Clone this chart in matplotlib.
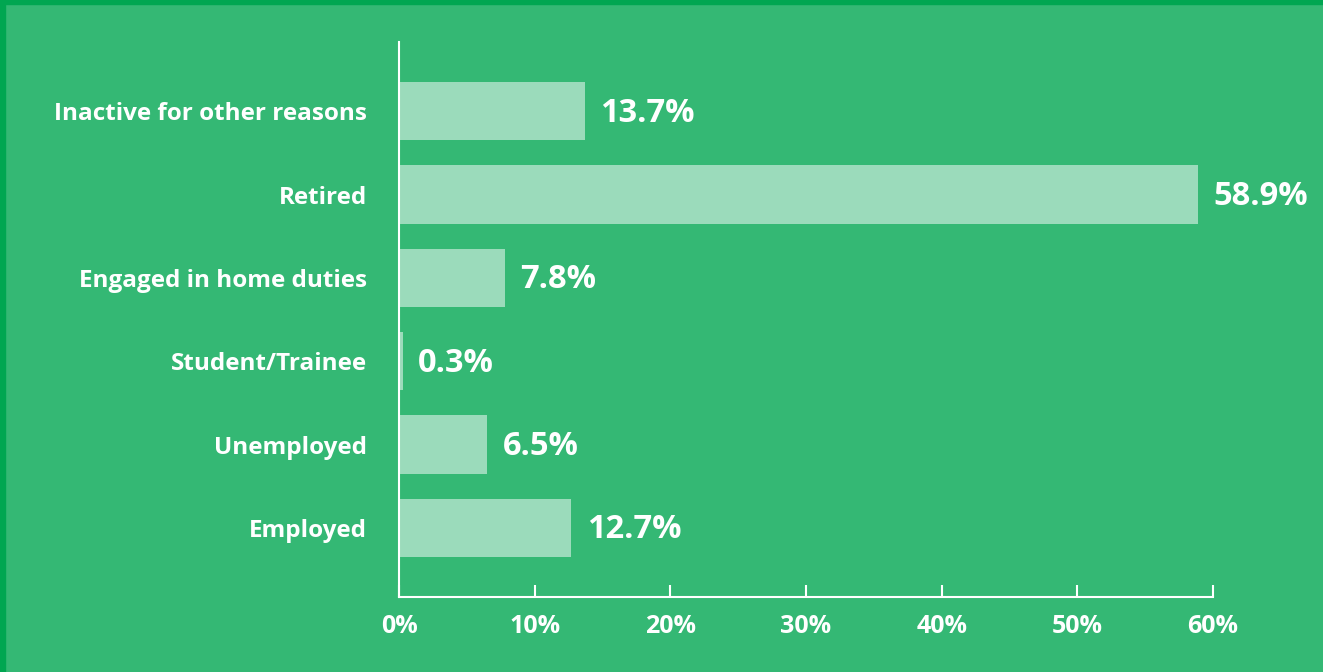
import matplotlib.pyplot as plt
from matplotlib.patches import Rectangle

categories = ['Employed', 'Unemployed', 'Student/Trainee',
              'Engaged in home duties', 'Retired', 'Inactive for other reasons']
values = [12.7, 6.5, 0.3, 7.8, 58.9, 13.7]
xticks = [0, 10, 20, 30, 40, 50, 60]

bg = '#34b874'
bar_col = '#9bdbbb'
border = '#00a651'

plt.rcParams['font.family'] = ['Open Sans', 'DejaVu Sans']

fig = plt.figure(figsize=(13.23, 6.72), dpi=100, facecolor=bg)
ax = fig.add_axes([399 / 1323, 1 - 597 / 672, 814 / 1323, 555 / 672])
ax.set_facecolor(bg)

pos = list(range(len(categories)))
ax.barh(pos, values, height=0.7, color=bar_col)

# value labels to the right of each bar
for p, v in zip(pos, values):
    ax.annotate(f'{v}%', (v, p), xytext=(11, -1.5), textcoords='offset points',
                va='center', ha='left', color='white', fontsize=23.5, fontweight='bold')

ax.set_xlim(0, 60)
ax.set_ylim(-0.83, 5.83)
ax.set_xticks(xticks)
ax.set_xticklabels([f'{t}%' for t in xticks])
ax.set_yticks(pos)
ax.set_yticklabels(categories)

for s in ['top', 'right']:
    ax.spines[s].set_visible(False)
for s in ['left', 'bottom']:
    ax.spines[s].set_color('white')
    ax.spines[s].set_linewidth(1.5)

ax.tick_params(axis='x', direction='in', length=8.6, width=1.5, color='white',
               labelcolor='white', labelsize=18, pad=12.5)
ax.tick_params(axis='y', length=0, labelcolor='white', labelsize=17.5, pad=23)
for lab in ax.get_xticklabels() + ax.get_yticklabels():
    lab.set_fontweight('bold')

# dark green frame on top and left edges
fig.patches.append(Rectangle((0, 1 - 4 / 672), 1, 4 / 672, transform=fig.transFigure,
                             color=border, zorder=0))
fig.patches.append(Rectangle((0, 0), 5 / 1323, 1, transform=fig.transFigure,
                             color=border, zorder=0))

fig.savefig('out.png', dpi=100, facecolor=bg)
